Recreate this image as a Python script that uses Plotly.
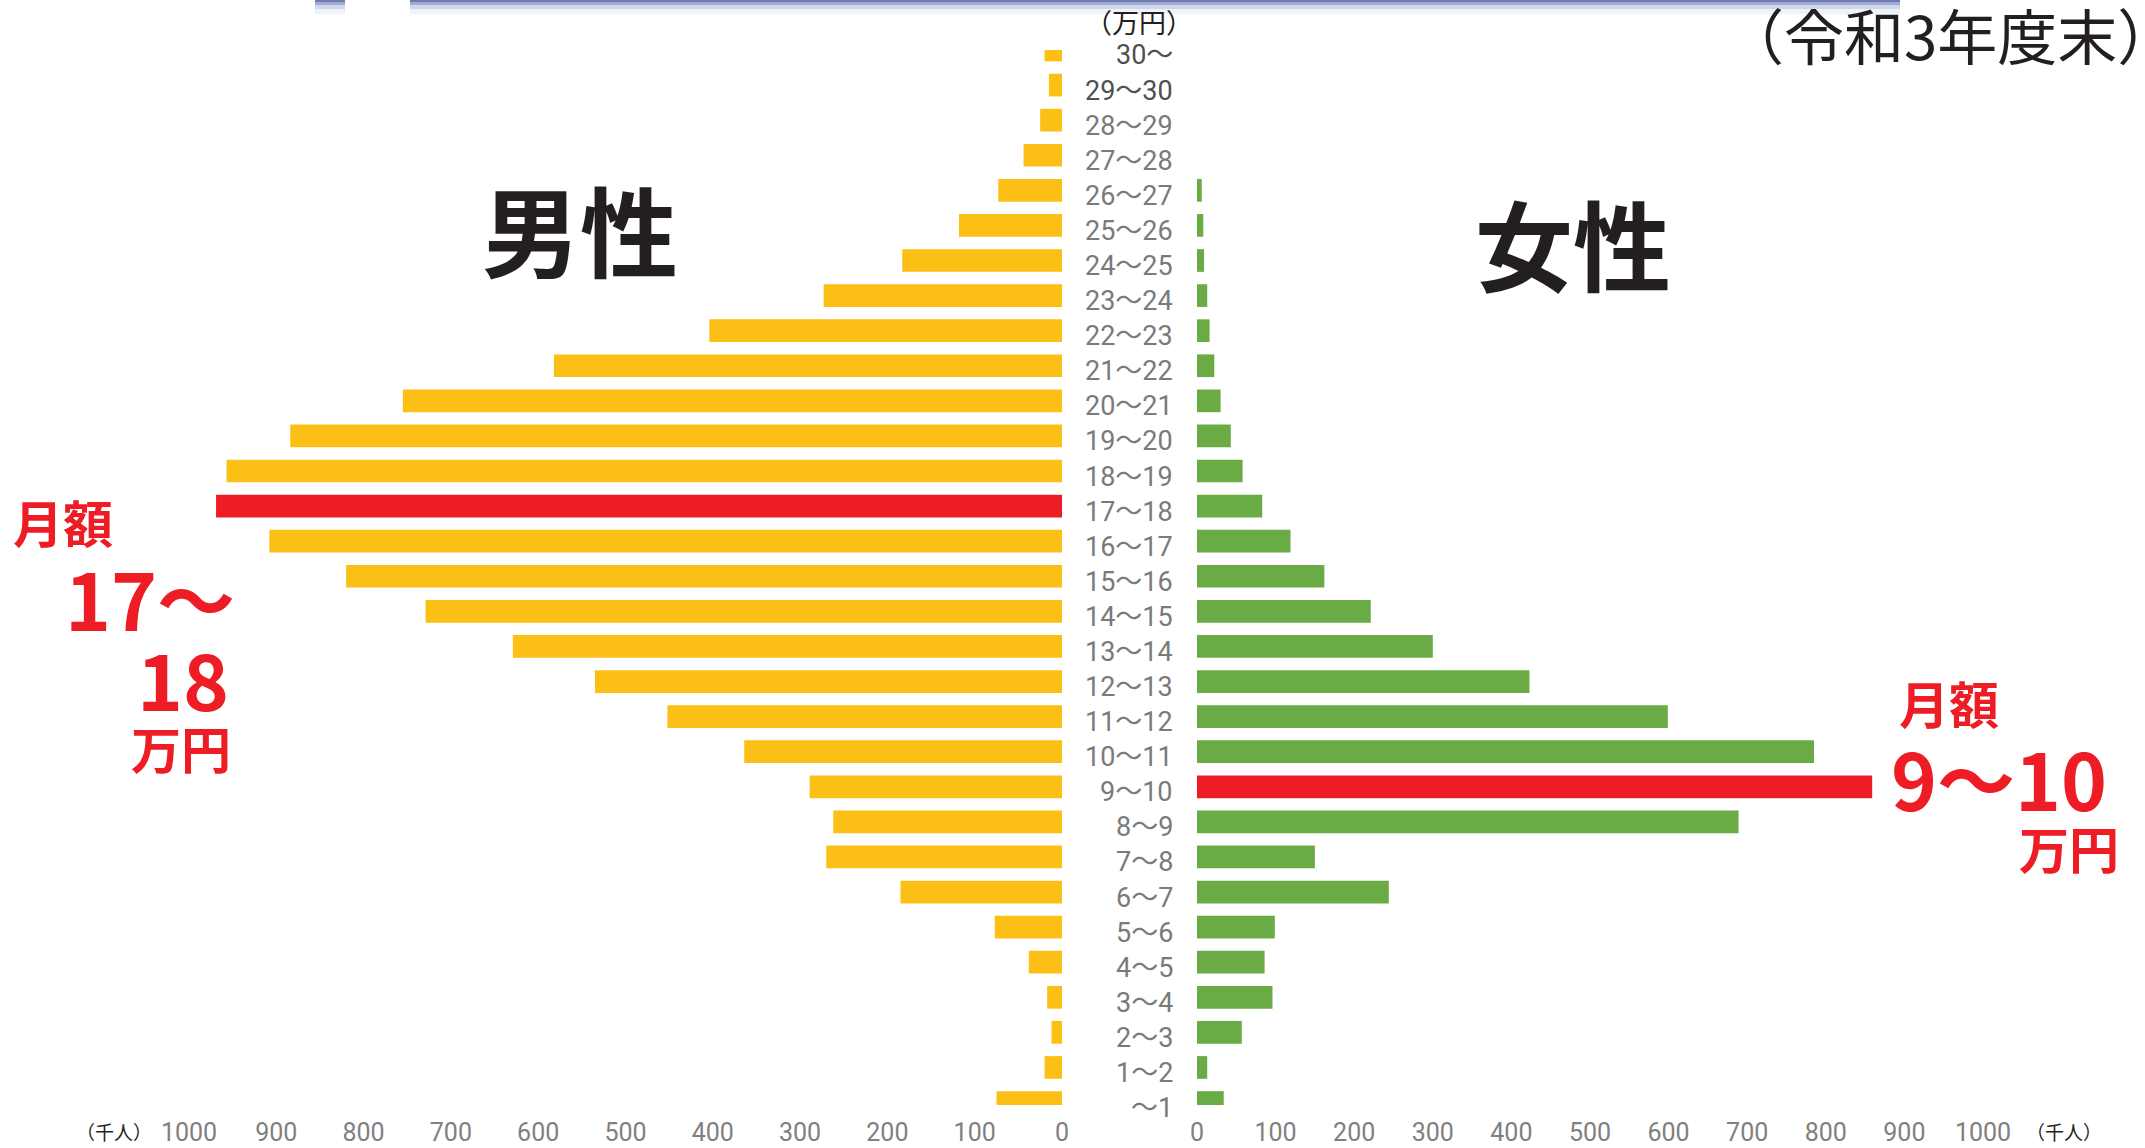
import plotly.graph_objects as go

W, H = 2145, 1148

# ---- data (千人) ----
categories = ["～1", "1～2", "2～3", "3～4", "4～5", "5～6", "6～7", "7～8", "8～9", "9～10",
              "10～11", "11～12", "12～13", "13～14", "14～15", "15～16", "16～17", "17～18",
              "18～19", "19～20", "20～21", "21～22", "22～23", "23～24", "24～25", "25～26",
              "26～27", "27～28", "28～29", "29～30", "30～"]
male = [75, 20, 12, 17, 38, 77, 185, 270, 262, 289,
        364, 452, 535, 629, 729, 820, 908, 969,
        957, 884, 755, 582, 404, 273, 183, 118,
        73, 44, 25, 15, 20]
female = [34, 13, 57, 96, 86, 99, 244, 150, 689, 859,
          785, 599, 423, 300, 221, 162, 119, 83,
          58, 43, 30, 22, 16, 13, 9, 8,
          6, 0, 0, 0, 0]
male_peak = "17～18"
female_peak = "9～10"
tick_values = [0, 100, 200, 300, 400, 500, 600, 700, 800, 900, 1000]
tick_labels = [str(v) for v in tick_values]

YELLOW = "#FBBF15"
GREEN = "#6AAB45"
RED = "#EE1D25"
GRAY = "#7a7a7a"
DARK = "#231F20"
NUM = "Roboto, Liberation Sans, sans-serif"
CJK = "Noto Sans CJK JP, Noto Sans, sans-serif"


def px(x):
    return x / W


def py(y):
    return 1 - y / H


male_colors = [RED if c == male_peak else YELLOW for c in categories]
female_colors = [RED if c == female_peak else GREEN for c in categories]

fig = go.Figure()
fig.add_trace(go.Bar(x=male, y=categories, orientation="h", xaxis="x", yaxis="y",
                     marker=dict(color=male_colors, line=dict(width=0)), showlegend=False,
                     hoverinfo="x+y"))
fig.add_trace(go.Bar(x=female, y=categories, orientation="h", xaxis="x2", yaxis="y",
                     marker=dict(color=female_colors, line=dict(width=0)), showlegend=False,
                     hoverinfo="x+y"))

tickfont = dict(family=NUM, size=25, color="#808080")
common_x = dict(tickvals=tick_values, ticktext=tick_labels, showgrid=False, zeroline=False,
                showline=False, ticks="outside", ticklen=5, tickcolor="rgba(0,0,0,0)",
                tickfont=tickfont, fixedrange=True, automargin=False)
fig.update_layout(
    template="none",
    width=W, height=H,
    margin=dict(l=0, r=0, t=0, b=0, pad=0, autoexpand=False),
    paper_bgcolor="white", plot_bgcolor="white",
    bargap=0.353,
    xaxis=dict(domain=[px(189), px(1062)], range=[1000, 0], anchor="y", **common_x),
    xaxis2=dict(domain=[px(1197), px(1983)], range=[0, 1000], anchor="y", **common_x),
    yaxis=dict(domain=[py(1105), py(50)], type="category", categoryorder="array",
               categoryarray=categories, range=[-0.07, 30], showticklabels=False,
               showgrid=False, zeroline=False, showline=False, fixedrange=True,
               automargin=False, ticks=""),
)

# central axis lines
fig.add_shape(type="rect", xref="x", yref="y domain", xsizemode="pixel", xanchor=0,
              x0=0, x1=5, y0=0, y1=1, fillcolor="#C4C4C4", line=dict(width=0), layer="above")
fig.add_shape(type="rect", xref="x2", yref="y domain", xsizemode="pixel", xanchor=0,
              x0=-5, x1=0, y0=0, y1=1, fillcolor="#C4C4C4", line=dict(width=0), layer="above")

# blurred, cut-off heading at the top edge
for (yb, col) in [(14, "rgba(150,165,210,0.15)"), (9, "rgba(90,110,180,0.2)"),
                  (5, "rgba(50,70,150,0.3)"), (2, "rgba(30,50,130,0.4)")]:
    fig.add_shape(type="rect", xref="paper", yref="paper", x0=px(410), x1=px(1900),
                  y0=py(yb), y1=1, fillcolor=col, line=dict(width=0))
    fig.add_shape(type="rect", xref="paper", yref="paper", x0=px(315), x1=px(345),
                  y0=py(yb), y1=1, fillcolor=col, line=dict(width=0))


def cat_label(c):
    parts = c.split("～")
    tilde = '<span style="font-family:Noto Sans CJK JP">～</span>'
    return parts[0] + tilde + parts[1]


# category labels between panels
dark_labels = {"30～", "29～30"}
for c in categories:
    fig.add_annotation(xref="x2", x=0, yref="y", y=c, text=cat_label(c), showarrow=False,
                       xanchor="right", xshift=-22, yshift=-3,
                       font=dict(family=NUM, size=27,
                                 color="#505050" if c in dark_labels else GRAY))

texts = [
    dict(text="（万円）", x=1139, y=21, size=27, color=DARK, family=CJK, weight="normal"),
    dict(text="（令和3年度末）", x=1950, y=34, size=60, color=DARK, family=CJK, weight="normal"),
    dict(text="男性", x=580, y=227, size=98, color=DARK, family=CJK, weight="bold"),
    dict(text="女性", x=1573, y=241, size=98, color=DARK, family=CJK, weight="bold"),
    dict(text="（千人）", x=114, y=1131, size=19, color=DARK, family=CJK, weight="normal"),
    dict(text="（千人）", x=2064, y=1131, size=19, color=DARK, family=CJK, weight="normal"),
    dict(text="月額", x=63, y=521, size=50, color=RED, family=CJK, weight="bold"),
    dict(text="17～", x=150, y=597, size=78, color=RED, family=CJK, weight="bold"),
    dict(text="18", x=183, y=677, size=78, color=RED, family=CJK, weight="bold"),
    dict(text="万円", x=181, y=747, size=50, color=RED, family=CJK, weight="bold"),
    dict(text="月額", x=1949, y=702, size=50, color=RED, family=CJK, weight="bold"),
    dict(text="9～10", x=1999, y=777, size=78, color=RED, family=CJK, weight="bold"),
    dict(text="万円", x=2069, y=847, size=50, color=RED, family=CJK, weight="bold"),
]
for t in texts:
    fig.add_annotation(xref="paper", yref="paper", x=px(t["x"]), y=py(t["y"]), text=t["text"],
                       showarrow=False, xanchor="center", yanchor="middle",
                       font=dict(family=t["family"], size=t["size"], color=t["color"],
                                 weight=t["weight"]))

fig.write_html("out.html", config={"displayModeBar": False},
               post_script="document.body.style.margin='0';")
